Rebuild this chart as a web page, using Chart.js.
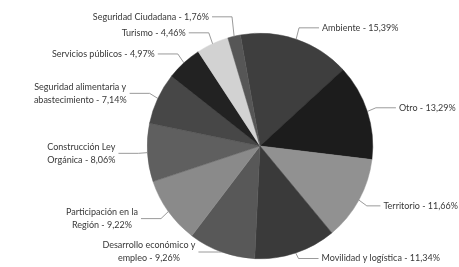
<!DOCTYPE html>
<html>
<head>
<meta charset="utf-8">
<script src="https://cdn.jsdelivr.net/npm/chart.js@4/dist/chart.umd.min.js"></script>
<style>
    html, body { margin: 0; padding: 0; background: #fff; }
    #wrap { width: 459px; height: 267px; }
</style>
</head>
<body>
<div id="wrap"><canvas id="myChart"></canvas></div>
<script>
const labels = [
    "Ambiente",
    "Otro",
    "Territorio",
    "Movilidad y logística",
    ["Desarrollo económico y", "empleo"],
    ["Participación en la", "Región"],
    ["Construcción Ley", "Orgánica"],
    ["Seguridad alimentaria y", "abastecimiento"],
    "Servicios públicos",
    "Turismo",
    "Seguridad Ciudadana",
];
const values = [15.39, 13.29, 11.66, 11.34, 9.26, 9.22, 8.06, 7.14, 4.97, 4.46, 1.76];

const sliceColors = [
    "#3e3e3e", "#1c1c1c", "#919191", "#3a3a3a", "#585858", "#8a8a8a",
    "#5f5f5f", "#474747", "#222222", "#d2d2d2", "#565656",
];

const FONT = "9px Lato";
const LINE_H = 13;

// labels outside the pie with small leader lines
const outsideLabels = {
    id: "outsideLabels",
    afterDatasetsDraw(chart) {
        const ctx = chart.ctx;
        const meta = chart.getDatasetMeta(0);
        ctx.save();
        ctx.font = FONT;
        const items = meta.data.map((arc, i) => {
            const p = arc.getProps(["x", "y", "startAngle", "endAngle", "outerRadius"], true);
            const mid = (p.startAngle + p.endAngle) / 2;
            const c = Math.cos(mid), s = Math.sin(mid);
            const lines = [].concat(labels[i]);
            lines[lines.length - 1] += " - " + values[i].toFixed(2).replace(".", ",") + "%";
            return {
                x0: p.x + c * p.outerRadius,
                y0: p.y + s * p.outerRadius,
                x1: p.x + c * (p.outerRadius + 9),
                ty: p.y + s * (p.outerRadius + 12),
                right: c >= 0,
                lines: lines,
                h: lines.length * LINE_H,
                w: Math.max(...lines.map(t => ctx.measureText(t).width)),
            };
        });

        // keep the label blocks apart, pushing upwards from the bottom
        [true, false].forEach(side => {
            const list = items.filter(d => d.right === side).sort((a, b) => b.ty - a.ty);
            let limit = chart.height - 2;
            list.forEach(d => {
                if (d.ty + d.h / 2 > limit) d.ty = limit - d.h / 2;
                limit = d.ty - d.h / 2 - 3;
            });
        });

        items.forEach(d => {
            let left = d.right ? d.x1 + 23 : d.x1 - 23 - d.w;
            if (d.right) left = Math.min(left, chart.width - 1 - d.w);
            const lineEnd = d.right ? left - 3 : left + d.w + 3;

            ctx.strokeStyle = "#808080";
            ctx.lineWidth = 0.8;
            ctx.beginPath();
            ctx.moveTo(d.x0, d.y0);
            ctx.lineTo(d.x1, d.ty);
            ctx.lineTo(lineEnd, d.ty);
            ctx.stroke();

            ctx.fillStyle = "#383838";
            ctx.textBaseline = "middle";
            const top = d.ty - d.h / 2 + LINE_H / 2;
            d.lines.forEach((t, k) => {
                ctx.textAlign = d.right ? "left" : "center";
                const x = d.right ? left : left + d.w / 2;
                ctx.fillText(t, x, top + k * LINE_H);
            });
        });
        ctx.restore();
    },
};

const data = {
    labels: labels,
    datasets: [
        {
            data: values,
            backgroundColor: sliceColors,
            borderColor: sliceColors,
            borderWidth: 0.5,
        },
    ],
};

const config = {
    type: "pie",
    data: data,
    options: {
        responsive: true,
        maintainAspectRatio: false,
        animation: false,
        rotation: -10,
        layout: { padding: { left: 147, right: 86, top: 33, bottom: 8 } },
        plugins: {
            legend: { display: false },
            tooltip: { enabled: false },
        },
    },
    plugins: [outsideLabels],
};

new Chart(document.getElementById("myChart"), config);
</script>
</body>
</html>
